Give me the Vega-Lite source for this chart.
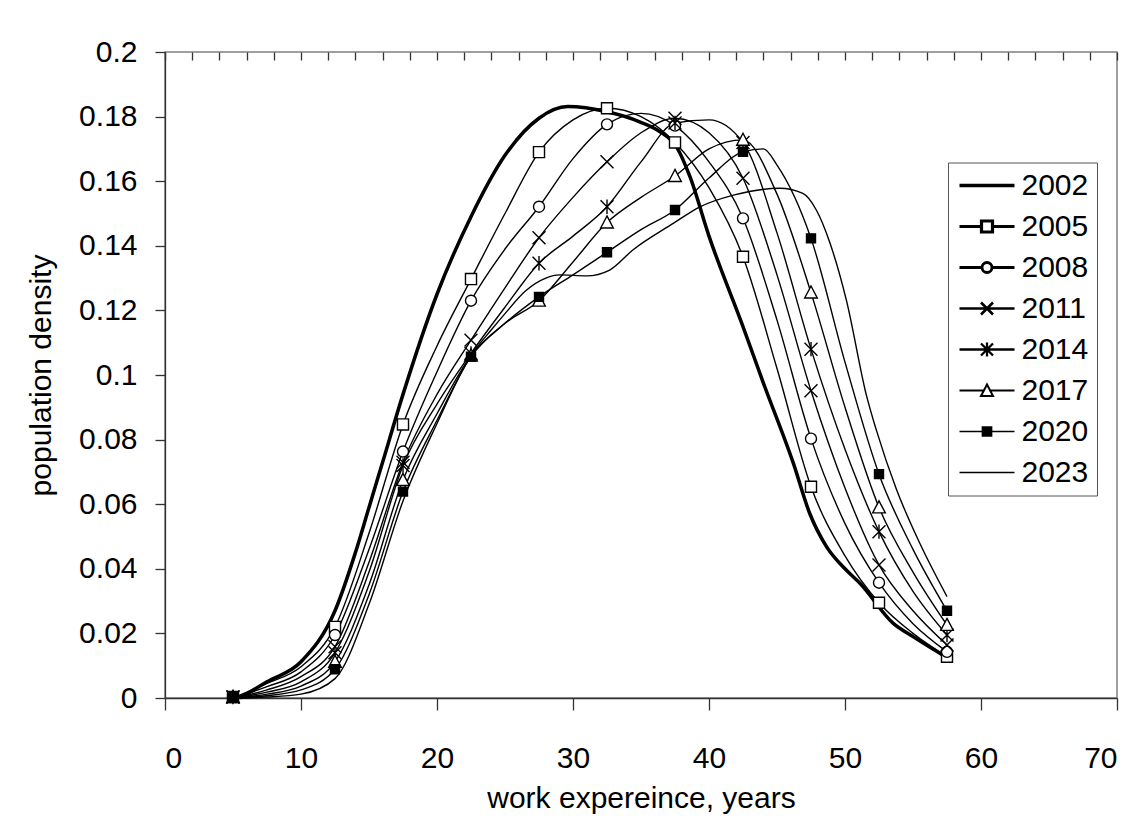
{
  "$schema": "https://vega.github.io/schema/vega-lite/v6.json",
  "width": 952,
  "height": 646,
  "autosize": {"type": "none"},
  "padding": {"left": 165, "top": 52, "right": 26, "bottom": 137},
  "background": "white",
  "config": {
    "font": "Liberation Sans",
    "view": {"stroke": "#808080", "strokeWidth": 1.5},
    "axis": {
      "grid": false,
      "labelFont": "Liberation Sans",
      "titleFont": "Liberation Sans",
      "labelColor": "black",
      "titleColor": "black",
      "titleFontWeight": "normal",
      "domainColor": "#333333",
      "tickColor": "#333333",
      "domainWidth": 1.3,
      "tickWidth": 1.3,
      "labelFontSize": 30,
      "titleFontSize": 30
    }
  },
  "datasets": {
    "lines": [
      {"year": "2002", "exp": 5.5, "density": 0},
      {"year": "2002", "exp": 7.5, "density": 0.005},
      {"year": "2002", "exp": 10, "density": 0.0112},
      {"year": "2002", "exp": 12.5, "density": 0.027},
      {"year": "2002", "exp": 14, "density": 0.045},
      {"year": "2002", "exp": 15, "density": 0.059},
      {"year": "2002", "exp": 16, "density": 0.073},
      {"year": "2002", "exp": 17.5, "density": 0.094},
      {"year": "2002", "exp": 20, "density": 0.125},
      {"year": "2002", "exp": 22.5, "density": 0.149},
      {"year": "2002", "exp": 25, "density": 0.168},
      {"year": "2002", "exp": 27.5, "density": 0.1795},
      {"year": "2002", "exp": 29.6, "density": 0.1831},
      {"year": "2002", "exp": 32.5, "density": 0.1815},
      {"year": "2002", "exp": 34.9, "density": 0.1784},
      {"year": "2002", "exp": 36.4, "density": 0.1753},
      {"year": "2002", "exp": 37.6, "density": 0.1707},
      {"year": "2002", "exp": 38.6, "density": 0.1614},
      {"year": "2002", "exp": 40, "density": 0.143},
      {"year": "2002", "exp": 42.5, "density": 0.115},
      {"year": "2002", "exp": 44, "density": 0.0975},
      {"year": "2002", "exp": 46.2, "density": 0.0727},
      {"year": "2002", "exp": 47.4, "density": 0.0572},
      {"year": "2002", "exp": 48.65, "density": 0.0468},
      {"year": "2002", "exp": 50, "density": 0.04},
      {"year": "2002", "exp": 51.1, "density": 0.0355},
      {"year": "2002", "exp": 53.55, "density": 0.0231},
      {"year": "2002", "exp": 55, "density": 0.019},
      {"year": "2002", "exp": 57.5, "density": 0.0125},

      {"year": "2005", "exp": 5, "density": 0},
      {"year": "2005", "exp": 7.5, "density": 0.0045},
      {"year": "2005", "exp": 10, "density": 0.0097},
      {"year": "2005", "exp": 12.5, "density": 0.022},
      {"year": "2005", "exp": 15, "density": 0.051},
      {"year": "2005", "exp": 17.5, "density": 0.0847},
      {"year": "2005", "exp": 20, "density": 0.109},
      {"year": "2005", "exp": 22.5, "density": 0.1297},
      {"year": "2005", "exp": 25, "density": 0.15},
      {"year": "2005", "exp": 27.5, "density": 0.169},
      {"year": "2005", "exp": 30, "density": 0.179},
      {"year": "2005", "exp": 32.5, "density": 0.1826},
      {"year": "2005", "exp": 35, "density": 0.18},
      {"year": "2005", "exp": 37.5, "density": 0.172},
      {"year": "2005", "exp": 40, "density": 0.158},
      {"year": "2005", "exp": 42.5, "density": 0.1366},
      {"year": "2005", "exp": 45, "density": 0.102},
      {"year": "2005", "exp": 47.5, "density": 0.0654},
      {"year": "2005", "exp": 50, "density": 0.044},
      {"year": "2005", "exp": 52.5, "density": 0.0295},
      {"year": "2005", "exp": 55, "density": 0.02},
      {"year": "2005", "exp": 57.5, "density": 0.0128},

      {"year": "2008", "exp": 5, "density": 0},
      {"year": "2008", "exp": 7.5, "density": 0.0035},
      {"year": "2008", "exp": 10, "density": 0.0081},
      {"year": "2008", "exp": 12.5, "density": 0.0195},
      {"year": "2008", "exp": 15, "density": 0.046},
      {"year": "2008", "exp": 17.5, "density": 0.0763},
      {"year": "2008", "exp": 20, "density": 0.101},
      {"year": "2008", "exp": 22.5, "density": 0.123},
      {"year": "2008", "exp": 25, "density": 0.139},
      {"year": "2008", "exp": 27.5, "density": 0.1521},
      {"year": "2008", "exp": 30, "density": 0.167},
      {"year": "2008", "exp": 32.5, "density": 0.1776},
      {"year": "2008", "exp": 35, "density": 0.181},
      {"year": "2008", "exp": 37.5, "density": 0.1772},
      {"year": "2008", "exp": 40, "density": 0.166},
      {"year": "2008", "exp": 42.5, "density": 0.1485},
      {"year": "2008", "exp": 45, "density": 0.117},
      {"year": "2008", "exp": 47.5, "density": 0.0803},
      {"year": "2008", "exp": 50, "density": 0.054},
      {"year": "2008", "exp": 52.5, "density": 0.0357},
      {"year": "2008", "exp": 55, "density": 0.023},
      {"year": "2008", "exp": 57.5, "density": 0.0143},

      {"year": "2011", "exp": 5, "density": 0},
      {"year": "2011", "exp": 7.5, "density": 0.0025},
      {"year": "2011", "exp": 10, "density": 0.0066},
      {"year": "2011", "exp": 12.5, "density": 0.0159},
      {"year": "2011", "exp": 15, "density": 0.042},
      {"year": "2011", "exp": 17.5, "density": 0.073},
      {"year": "2011", "exp": 20, "density": 0.094},
      {"year": "2011", "exp": 22.5, "density": 0.1108},
      {"year": "2011", "exp": 25, "density": 0.127},
      {"year": "2011", "exp": 27.5, "density": 0.1425},
      {"year": "2011", "exp": 30, "density": 0.155},
      {"year": "2011", "exp": 32.5, "density": 0.166},
      {"year": "2011", "exp": 35, "density": 0.175},
      {"year": "2011", "exp": 37.5, "density": 0.1795},
      {"year": "2011", "exp": 40, "density": 0.175},
      {"year": "2011", "exp": 42.5, "density": 0.1609},
      {"year": "2011", "exp": 45, "density": 0.131},
      {"year": "2011", "exp": 47.5, "density": 0.0951},
      {"year": "2011", "exp": 50, "density": 0.065},
      {"year": "2011", "exp": 52.5, "density": 0.0412},
      {"year": "2011", "exp": 55, "density": 0.027},
      {"year": "2011", "exp": 57.5, "density": 0.0164},

      {"year": "2014", "exp": 5, "density": 0},
      {"year": "2014", "exp": 7.5, "density": 0.0018},
      {"year": "2014", "exp": 10, "density": 0.005},
      {"year": "2014", "exp": 12.5, "density": 0.014},
      {"year": "2014", "exp": 15, "density": 0.039},
      {"year": "2014", "exp": 17.5, "density": 0.072},
      {"year": "2014", "exp": 20, "density": 0.091},
      {"year": "2014", "exp": 22.5, "density": 0.1067},
      {"year": "2014", "exp": 25, "density": 0.121},
      {"year": "2014", "exp": 27.5, "density": 0.1346},
      {"year": "2014", "exp": 30, "density": 0.143},
      {"year": "2014", "exp": 32.5, "density": 0.1521},
      {"year": "2014", "exp": 35, "density": 0.166},
      {"year": "2014", "exp": 37.5, "density": 0.178},
      {"year": "2014", "exp": 40, "density": 0.179},
      {"year": "2014", "exp": 42.5, "density": 0.172},
      {"year": "2014", "exp": 45, "density": 0.144},
      {"year": "2014", "exp": 47.5, "density": 0.108},
      {"year": "2014", "exp": 50, "density": 0.077},
      {"year": "2014", "exp": 52.5, "density": 0.0515},
      {"year": "2014", "exp": 55, "density": 0.033},
      {"year": "2014", "exp": 57.5, "density": 0.0195},

      {"year": "2017", "exp": 5, "density": 0},
      {"year": "2017", "exp": 7.5, "density": 0.0012},
      {"year": "2017", "exp": 10, "density": 0.0037},
      {"year": "2017", "exp": 12.5, "density": 0.0112},
      {"year": "2017", "exp": 15, "density": 0.035},
      {"year": "2017", "exp": 17.5, "density": 0.0675},
      {"year": "2017", "exp": 20, "density": 0.088},
      {"year": "2017", "exp": 22.5, "density": 0.106},
      {"year": "2017", "exp": 25, "density": 0.116},
      {"year": "2017", "exp": 27.5, "density": 0.123},
      {"year": "2017", "exp": 30, "density": 0.135},
      {"year": "2017", "exp": 32.5, "density": 0.1472},
      {"year": "2017", "exp": 35, "density": 0.155},
      {"year": "2017", "exp": 37.5, "density": 0.1616},
      {"year": "2017", "exp": 40, "density": 0.17},
      {"year": "2017", "exp": 42.5, "density": 0.1728},
      {"year": "2017", "exp": 45, "density": 0.156},
      {"year": "2017", "exp": 47.5, "density": 0.1255},
      {"year": "2017", "exp": 50, "density": 0.09},
      {"year": "2017", "exp": 52.5, "density": 0.059},
      {"year": "2017", "exp": 55, "density": 0.039},
      {"year": "2017", "exp": 57.5, "density": 0.0226},

      {"year": "2020", "exp": 5, "density": 0},
      {"year": "2020", "exp": 7.5, "density": 0.0007},
      {"year": "2020", "exp": 10, "density": 0.0025},
      {"year": "2020", "exp": 12.5, "density": 0.0089},
      {"year": "2020", "exp": 15, "density": 0.032},
      {"year": "2020", "exp": 17.5, "density": 0.0639},
      {"year": "2020", "exp": 20, "density": 0.086},
      {"year": "2020", "exp": 22.5, "density": 0.1057},
      {"year": "2020", "exp": 25, "density": 0.116},
      {"year": "2020", "exp": 27.5, "density": 0.1242},
      {"year": "2020", "exp": 30, "density": 0.131},
      {"year": "2020", "exp": 32.5, "density": 0.138},
      {"year": "2020", "exp": 35, "density": 0.145},
      {"year": "2020", "exp": 37.5, "density": 0.1511},
      {"year": "2020", "exp": 40, "density": 0.161},
      {"year": "2020", "exp": 42.5, "density": 0.1691},
      {"year": "2020", "exp": 44, "density": 0.17},
      {"year": "2020", "exp": 45, "density": 0.165},
      {"year": "2020", "exp": 47.5, "density": 0.1423},
      {"year": "2020", "exp": 50, "density": 0.104},
      {"year": "2020", "exp": 52.5, "density": 0.0693},
      {"year": "2020", "exp": 55, "density": 0.046},
      {"year": "2020", "exp": 57.5, "density": 0.027},

      {"year": "2023", "exp": 5, "density": 0},
      {"year": "2023", "exp": 7.5, "density": 0.0003},
      {"year": "2023", "exp": 10, "density": 0.0012},
      {"year": "2023", "exp": 12.5, "density": 0.006},
      {"year": "2023", "exp": 15, "density": 0.029},
      {"year": "2023", "exp": 17.5, "density": 0.061},
      {"year": "2023", "exp": 20, "density": 0.085},
      {"year": "2023", "exp": 22.5, "density": 0.106},
      {"year": "2023", "exp": 24, "density": 0.114},
      {"year": "2023", "exp": 25, "density": 0.119},
      {"year": "2023", "exp": 26.5, "density": 0.126},
      {"year": "2023", "exp": 28, "density": 0.13},
      {"year": "2023", "exp": 29, "density": 0.131},
      {"year": "2023", "exp": 31, "density": 0.1307},
      {"year": "2023", "exp": 32.7, "density": 0.1325},
      {"year": "2023", "exp": 34.4, "density": 0.1387},
      {"year": "2023", "exp": 37.4, "density": 0.147},
      {"year": "2023", "exp": 39.3, "density": 0.152},
      {"year": "2023", "exp": 41.8, "density": 0.1557},
      {"year": "2023", "exp": 45.2, "density": 0.1578},
      {"year": "2023", "exp": 46.9, "density": 0.1562},
      {"year": "2023", "exp": 47.9, "density": 0.151},
      {"year": "2023", "exp": 48.9, "density": 0.1408},
      {"year": "2023", "exp": 50.1, "density": 0.1232},
      {"year": "2023", "exp": 51.6, "density": 0.0933},
      {"year": "2023", "exp": 52.3, "density": 0.083},
      {"year": "2023", "exp": 53.8, "density": 0.0644},
      {"year": "2023", "exp": 55.5, "density": 0.0479},
      {"year": "2023", "exp": 57.5, "density": 0.0314}
    ],
    "markers": [
      {"year": "2005", "exp": 5, "density": 0.0003},
      {"year": "2005", "exp": 12.5, "density": 0.022},
      {"year": "2005", "exp": 17.5, "density": 0.0847},
      {"year": "2005", "exp": 22.5, "density": 0.1297},
      {"year": "2005", "exp": 27.5, "density": 0.169},
      {"year": "2005", "exp": 32.5, "density": 0.1826},
      {"year": "2005", "exp": 37.5, "density": 0.172},
      {"year": "2005", "exp": 42.5, "density": 0.1366},
      {"year": "2005", "exp": 47.5, "density": 0.0654},
      {"year": "2005", "exp": 52.5, "density": 0.0295},
      {"year": "2005", "exp": 57.5, "density": 0.0128},
      {"year": "2008", "exp": 5, "density": 0.0003},
      {"year": "2008", "exp": 12.5, "density": 0.0195},
      {"year": "2008", "exp": 17.5, "density": 0.0763},
      {"year": "2008", "exp": 22.5, "density": 0.123},
      {"year": "2008", "exp": 27.5, "density": 0.1521},
      {"year": "2008", "exp": 32.5, "density": 0.1776},
      {"year": "2008", "exp": 37.5, "density": 0.1772},
      {"year": "2008", "exp": 42.5, "density": 0.1485},
      {"year": "2008", "exp": 47.5, "density": 0.0803},
      {"year": "2008", "exp": 52.5, "density": 0.0357},
      {"year": "2008", "exp": 57.5, "density": 0.0143},
      {"year": "2011", "exp": 5, "density": 0.0003},
      {"year": "2011", "exp": 12.5, "density": 0.0159},
      {"year": "2011", "exp": 17.5, "density": 0.073},
      {"year": "2011", "exp": 22.5, "density": 0.1108},
      {"year": "2011", "exp": 27.5, "density": 0.1425},
      {"year": "2011", "exp": 32.5, "density": 0.166},
      {"year": "2011", "exp": 37.5, "density": 0.1795},
      {"year": "2011", "exp": 42.5, "density": 0.1609},
      {"year": "2011", "exp": 47.5, "density": 0.0951},
      {"year": "2011", "exp": 52.5, "density": 0.0412},
      {"year": "2011", "exp": 57.5, "density": 0.0164},
      {"year": "2014", "exp": 5, "density": 0.0003},
      {"year": "2014", "exp": 12.5, "density": 0.014},
      {"year": "2014", "exp": 17.5, "density": 0.072},
      {"year": "2014", "exp": 22.5, "density": 0.1067},
      {"year": "2014", "exp": 27.5, "density": 0.1346},
      {"year": "2014", "exp": 32.5, "density": 0.1521},
      {"year": "2014", "exp": 37.5, "density": 0.178},
      {"year": "2014", "exp": 42.5, "density": 0.172},
      {"year": "2014", "exp": 47.5, "density": 0.108},
      {"year": "2014", "exp": 52.5, "density": 0.0515},
      {"year": "2014", "exp": 57.5, "density": 0.0195},
      {"year": "2017", "exp": 5, "density": 0.0003},
      {"year": "2017", "exp": 12.5, "density": 0.0112},
      {"year": "2017", "exp": 17.5, "density": 0.0675},
      {"year": "2017", "exp": 22.5, "density": 0.106},
      {"year": "2017", "exp": 27.5, "density": 0.123},
      {"year": "2017", "exp": 32.5, "density": 0.1472},
      {"year": "2017", "exp": 37.5, "density": 0.1616},
      {"year": "2017", "exp": 42.5, "density": 0.1728},
      {"year": "2017", "exp": 47.5, "density": 0.1255},
      {"year": "2017", "exp": 52.5, "density": 0.059},
      {"year": "2017", "exp": 57.5, "density": 0.0226},
      {"year": "2020", "exp": 5, "density": 0.0003},
      {"year": "2020", "exp": 12.5, "density": 0.0089},
      {"year": "2020", "exp": 17.5, "density": 0.0639},
      {"year": "2020", "exp": 22.5, "density": 0.1057},
      {"year": "2020", "exp": 27.5, "density": 0.1242},
      {"year": "2020", "exp": 32.5, "density": 0.138},
      {"year": "2020", "exp": 37.5, "density": 0.1511},
      {"year": "2020", "exp": 42.5, "density": 0.1691},
      {"year": "2020", "exp": 47.5, "density": 0.1423},
      {"year": "2020", "exp": 52.5, "density": 0.0693},
      {"year": "2020", "exp": 57.5, "density": 0.027}
    ]
  },
  "encoding": {
    "y": {
      "field": "density",
      "type": "quantitative",
      "title": "population density",
      "scale": {"domain": [0, 0.2], "nice": false, "zero": false},
      "axis": {
        "values": [0, 0.02, 0.04, 0.06, 0.08, 0.1, 0.12, 0.14, 0.16, 0.18, 0.2],
        "format": ".2~f",
        "tickSize": 10,
        "labelPadding": 18,
        "titlePadding": 22
      }
    }
  },
  "layer": [
    {
      "data": {"name": "lines"},
      "mark": {"type": "line", "interpolate": "monotone", "color": "black"},
      "encoding": {
        "x": {
          "field": "exp",
          "type": "quantitative",
          "title": "work expereince, years",
          "scale": {"domain": [0, 70], "nice": false, "zero": false},
          "axis": {
            "values": [0, 10, 20, 30, 40, 50, 60, 70],
            "tickSize": 12,
            "labelPadding": 33,
            "titlePadding": 10
          }
        },
        "detail": {"field": "year", "type": "nominal"},
        "strokeWidth": {"condition": {"test": "datum.year === '2002'", "value": 3.5}, "value": 1.4}
      }
    },
    {
      "data": {"name": "markers"},
      "mark": {"type": "point", "stroke": "black", "strokeWidth": 1.4, "size": 144, "opacity": 1},
      "encoding": {
        "x": {
          "field": "exp",
          "type": "quantitative",
          "title": null,
          "axis": {
            "values": [0, 2, 4, 6, 8, 10, 12, 14, 16, 18, 20, 22, 24, 26, 28, 30, 32, 34, 36, 38, 40, 42, 44, 46, 48, 50, 52, 54, 56, 58, 60, 62, 64, 66, 68, 70],
            "tickSize": -8,
            "labels": false,
            "domain": false,
            "title": null
          }
        },
        "fill": {"condition": {"test": "datum.year === '2020'", "value": "black"}, "value": "white"},
        "shape": {
          "condition": [
            {"test": "datum.year === '2005'", "value": "M-0.92,-0.92H0.92V0.92H-0.92Z"},
            {"test": "datum.year === '2008'", "value": "M-0.92,0A0.92,0.92 0 1,0 0.92,0A0.92,0.92 0 1,0 -0.92,0Z"},
            {"test": "datum.year === '2011'", "value": "M-1.08,-1.08L1.08,1.08M-1.08,1.08L1.08,-1.08"},
            {"test": "datum.year === '2014'", "value": "M-1.08,-1.08L1.08,1.08M-1.08,1.08L1.08,-1.08M0,-1.2V1.2"},
            {"test": "datum.year === '2017'", "value": "M0,-1.1L1.05,0.9H-1.05Z"}
          ],
          "value": "M-0.75,-0.75H0.75V0.75H-0.75Z"
        }
      }
    },
    {
      "data": {"name": "lines"},
      "mark": {"type": "point", "size": 400, "opacity": 0},
      "encoding": {
        "x": {"field": "exp", "type": "quantitative", "axis": null},
        "shape": {
          "field": "year",
          "type": "nominal",
          "scale": {
            "domain": ["2002", "2005", "2008", "2011", "2014", "2017", "2020", "2023"],
            "range": [
              "M-2.75,0H2.75",
              "M-2.75,0H-0.55M0.55,0H2.75M-0.55,-0.55H0.55V0.55H-0.55Z",
              "M-2.75,0H-0.5M0.5,0H2.75M-0.5,0A0.5,0.5 0 1,0 0.5,0A0.5,0.5 0 1,0 -0.5,0Z",
              "M-2.75,0H2.75M-0.6,-0.6L0.6,0.6M-0.6,0.6L0.6,-0.6",
              "M-2.75,0H2.75M-0.6,-0.6L0.6,0.6M-0.6,0.6L0.6,-0.6M0,-0.7V0.7",
              "M-2.75,0H-0.31M0.31,0H2.75M0,-0.6L0.6,0.55H-0.6Z",
              "M-2.75,0H2.75M-0.45,-0.45H0.45V0.45H-0.45Z",
              "M-2.75,0H2.75"
            ]
          },
          "legend": {
            "orient": "none",
            "legendX": 783,
            "legendY": 110.5,
            "title": null,
            "strokeColor": "#555555",
            "fillColor": "white",
            "padding": 8,
            "rowPadding": 11,
            "symbolSize": 400,
            "symbolOpacity": 1,
            "symbolOffset": 16,
            "labelOffset": 19.5,
            "labelFontSize": 30,
            "labelFont": "Liberation Sans",
            "labelColor": "black"
          }
        },
        "fill": {
          "field": "year",
          "type": "nominal",
          "scale": {
            "domain": ["2002", "2005", "2008", "2011", "2014", "2017", "2020", "2023"],
            "range": ["white", "white", "white", "white", "white", "white", "black", "white"]
          },
          "legend": {"title": null}
        },
        "stroke": {
          "field": "year",
          "type": "nominal",
          "scale": {
            "domain": ["2002", "2005", "2008", "2011", "2014", "2017", "2020", "2023"],
            "range": ["black", "black", "black", "black", "black", "black", "black", "black"]
          },
          "legend": {"title": null}
        },
        "strokeWidth": {
          "field": "year",
          "type": "nominal",
          "scale": {
            "domain": ["2002", "2005", "2008", "2011", "2014", "2017", "2020", "2023"],
            "range": [3.5, 1.4, 1.4, 1.4, 1.4, 1.4, 1.4, 1.4]
          },
          "legend": {"title": null}
        }
      }
    }
  ],
  "resolve": {"axis": {"x": "independent"}}
}
